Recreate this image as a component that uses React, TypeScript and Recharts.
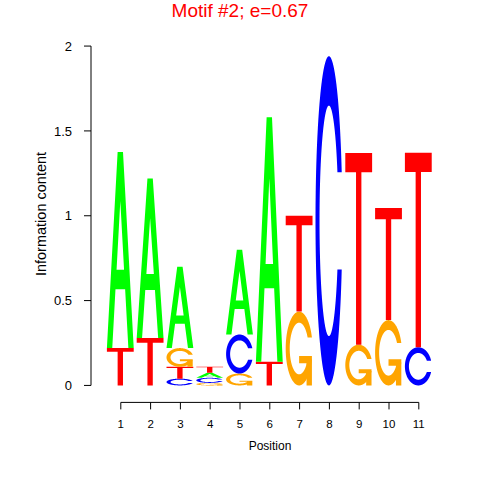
import { BarChart, Bar, XAxis, YAxis, ReferenceLine } from "recharts";

const positions = [1, 2, 3, 4, 5, 6, 7, 8, 9, 10, 11];
// letters in each column, bottom to top
const columnLetters = [
  ["T", "A"],
  ["T", "A"],
  ["C", "T", "G", "A"],
  ["G", "C", "A", "T"],
  ["G", "C", "A"],
  ["T", "A"],
  ["G", "T"],
  ["C"],
  ["G", "T"],
  ["G", "T"],
  ["C", "T"],
];
// information content of each letter (bits), same order as above
const columnBits = [
  [0.22, 1.155],
  [0.28, 0.94],
  [0.04, 0.07, 0.11, 0.48],
  [0.015, 0.03, 0.03, 0.035],
  [0.07, 0.23, 0.5],
  [0.14, 1.44],
  [0.435, 0.565],
  [1.94],
  [0.24, 1.13],
  [0.385, 0.66],
  [0.225, 1.147],
];
const yTicks = [0, 0.5, 1, 1.5, 2];

const letterColors: Record<string, string> = {
  A: "#00FF00",
  C: "#0000FF",
  G: "#FFA500",
  T: "#FF0000",
};

const LAYERS = 4;
const rows = positions.map((pos, i) => {
  const row: Record<string, number | string | null> = { pos };
  for (let k = 0; k < LAYERS; k++) {
    row[`h${k}`] = columnBits[i][k] ?? null;
    row[`l${k}`] = columnLetters[i][k] ?? null;
  }
  return row;
});

// glyph outlines in a unit box (y up), same construction as seqLogo
const seq = (a: number, b: number, n: number) =>
  Array.from({ length: n }, (_, i) => a + ((b - a) * i) / (n - 1));

function ringOutline() {
  const a1 = seq(0.3 + Math.PI / 2, Math.PI, 100);
  const a2 = seq(Math.PI, 1.5 * Math.PI, 100);
  const xl1 = a1.map((a) => 0.5 + 0.5 * Math.sin(a));
  const yl1 = a1.map((a) => 0.5 + 0.5 * Math.cos(a));
  const xl = [...xl1, ...a2.map((a) => 0.5 + 0.5 * Math.sin(a))];
  const yl = [...yl1, ...a2.map((a) => 0.5 + 0.5 * Math.cos(a))];
  const ox = [...xl, ...[...xl].reverse()];
  const oy = [...yl, ...[...yl].reverse().map((v) => 1 - v)];
  const hmax = Math.max(...yl1);
  const xi1: number[] = [];
  const yi1: number[] = [];
  a1.forEach((a) => {
    const yy = 0.5 + 0.35 * Math.cos(a);
    if (yy <= hmax) {
      xi1.push(0.5 + 0.35 * Math.sin(a));
      yi1.push(yy);
    }
  });
  yi1[0] = hmax;
  const xi = [...xi1, ...a2.map((a) => 0.5 + 0.35 * Math.sin(a))];
  const yi = [...yi1, ...a2.map((a) => 0.5 + 0.35 * Math.cos(a))];
  const ix = [...xi, ...[...xi].reverse()];
  const iy = [...yi, ...[...yi].reverse().map((v) => 1 - v)];
  return {
    xs: [...ox, ...[...ix].reverse()],
    ys: [...oy, ...[...iy].reverse()],
    r1: Math.max(...xl1),
  };
}

const ring = ringOutline();

const glyphs: Record<string, { xs: number[]; ys: number[] }[]> = {
  A: [
    { xs: [0, 0.4, 0.6, 1, 0.8, 0.68, 0.32, 0.2], ys: [0, 1, 1, 0, 0, 0.3, 0.3, 0] },
    { xs: [0.36, 0.5, 0.64], ys: [0.4, 0.75, 0.4] },
  ],
  T: [{ xs: [0, 1, 1, 0.6, 0.6, 0.4, 0.4, 0], ys: [1, 1, 0.9, 0.9, 0, 0, 0.9, 0.9] }],
  C: [{ xs: ring.xs, ys: ring.ys }],
  G: [
    { xs: ring.xs, ys: ring.ys },
    {
      xs: [ring.r1, 0.5, 0.5, ring.r1 - 0.2, ring.r1 - 0.2, ring.r1],
      ys: [0.4, 0.4, 0.3, 0.3, 0, 0],
    },
  ],
};

function LetterGlyph(props: any) {
  const { x, y, width, height, letter } = props;
  if (!letter || !height || height <= 0) return null;
  const parts = glyphs[letter];
  const toPath = (xs: number[], ys: number[]) =>
    xs
      .map(
        (ux, i) =>
          `${i ? "L" : "M"}${(x + ux * width).toFixed(2)},${(y + (1 - ys[i]) * height).toFixed(2)}`
      )
      .join("") + "Z";
  const fill = letterColors[letter];
  if (letter === "A") {
    return (
      <path
        d={parts.map((p) => toPath(p.xs, p.ys)).join("")}
        fill={fill}
        fillRule="evenodd"
      />
    );
  }
  return (
    <g>
      {parts.map((p, i) => (
        <path key={i} d={toPath(p.xs, p.ys)} fill={fill} />
      ))}
    </g>
  );
}

const font = "'Liberation Sans', Arial, Helvetica, sans-serif";

export default function App() {
  return (
    <div style={{ position: "absolute", left: 0, top: 0, width: 480, height: 480, background: "#fff" }}>
      <BarChart
        width={480}
        height={480}
        data={rows}
        margin={{ top: 29.1, right: 31.4, left: 0, bottom: 47.6 }}
      >
        <XAxis
          dataKey="pos"
          type="number"
          domain={[0, 12]}
          ticks={positions}
          interval={0}
          height={30}
          axisLine={false}
          tickLine={{ stroke: "#000" }}
          tickSize={7}
          tickMargin={10}
          tick={{ fontSize: 11.5, fill: "#000", fontFamily: font }}
        />
        <YAxis
          type="number"
          domain={[-0.1, 2.1]}
          ticks={yTicks}
          interval={0}
          width={91}
          axisLine={false}
          tickLine={{ stroke: "#000" }}
          tickSize={7}
          tickMargin={12}
          tickFormatter={(v) => String(v)}
          tick={{ fontSize: 13, fill: "#000", fontFamily: font }}
        />
        {Array.from({ length: LAYERS }, (_, k) => (
          <Bar
            key={k}
            dataKey={`h${k}`}
            stackId="logo"
            barSize={29.8}
            isAnimationActive={false}
            shape={(p: any) => <LetterGlyph {...p} letter={p.payload[`l${k}`]} />}
          />
        ))}
        <ReferenceLine
          segment={[{ x: 0, y: 0 }, { x: 0, y: 2 }]}
          stroke="#000"
          ifOverflow="visible"
        />
        <ReferenceLine
          segment={[{ x: 1, y: -0.1 }, { x: 11, y: -0.1 }]}
          stroke="#000"
          ifOverflow="visible"
        />
      </BarChart>
      <svg
        width={480}
        height={480}
        style={{ position: "absolute", left: 0, top: 0, pointerEvents: "none" }}
        fontFamily={font}
      >
        <text x={240} y={16.5} textAnchor="middle" fontSize={19} fill="#FF0000">
          Motif #2; e=0.67
        </text>
        <text x={270} y={450} textAnchor="middle" fontSize={12} fill="#000">
          Position
        </text>
        <text
          x={46}
          y={214}
          textAnchor="middle"
          fontSize={14.5}
          fill="#000"
          transform="rotate(-90 46 214)"
        >
          Information content
        </text>
      </svg>
    </div>
  );
}
